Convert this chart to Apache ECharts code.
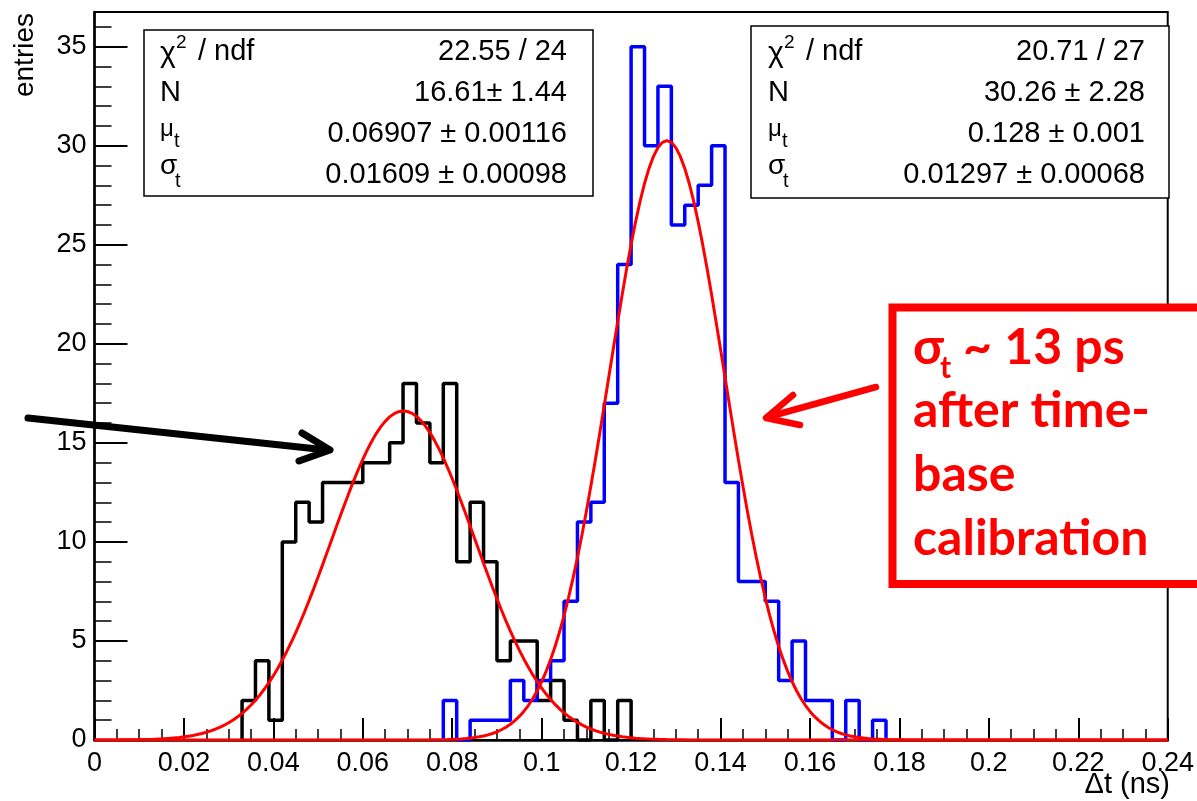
<!DOCTYPE html>
<html>
<head>
<meta charset="utf-8">
<script src="https://cdn.jsdelivr.net/npm/echarts@6/dist/echarts.min.js"></script>
<style>
  html, body { margin: 0; padding: 0; background: #fff; }
  #c { width: 1197px; height: 801px; }
</style>
</head>
<body>
<div id="c"></div>
<script>
// Time-difference histograms (before / after time-base calibration) with Gaussian fits

// histogram binning
const binWidth = 0.003;
const blackStart = 0.033;
const blackCounts = [2, 4, 1, 10, 12, 11, 13, 13, 13, 14, 14, 15, 18, 16, 14, 18, 9, 12, 9, 4, 5, 5, 2, 3, 1, 0, 2, 0, 2];
const blueStart = 0.078;
const blueCounts = [2, 0, 1, 1, 1, 3, 2, 3, 4, 7, 11, 12, 17, 24, 35, 30, 33, 26, 27, 28, 30, 13, 8, 8, 7, 3, 5, 2, 2, 0, 2, 0, 1];

// Gaussian fit results: N, mu_t, sigma_t
const blackFit = [16.61, 0.06907, 0.01609];
const blueFit = [30.26, 0.128, 0.01297];

// fit statistics text
const blackStats = ['22.55 / 24', '16.61\u00b1 1.44', '0.06907 \u00b1 0.00116', '0.01609 \u00b1 0.00098'];
const blueStats = ['20.71 / 27', '30.26 \u00b1 2.28', '0.128 \u00b1 0.001', '0.01297 \u00b1 0.00068'];

// axes
const xRange = [0, 0.24];
const xStep = 0.02;
const yRange = [0, 36.75];
const yStep = 5;
const xTitle = '\u0394t (ns)';
const yTitle = 'entries';

// annotation text
const noteHead = ['\u03c3', 't', '~ 13 ps'];
const noteLines = ['after time-', 'base', 'calibration'];

const SANS = '"Liberation Sans", Arial, sans-serif';
const NOTE_FONT = 'Lato, "Open Sans", sans-serif';

// outline of a histogram as a stepped line through bin edges
function stepData(start, counts) {
  const pts = [[start, 0]];
  counts.forEach((c, i) => pts.push([+(start + i * binWidth).toFixed(4), c]));
  pts.push([+(start + counts.length * binWidth).toFixed(4), 0]);
  return pts;
}

// fitted Gaussian N * exp(-0.5 ((x - mu) / sigma)^2) evaluated across the axis
function fitCurve(p) {
  const pts = [];
  const n = 240;
  for (let i = 0; i <= n; i++) {
    const x = xRange[0] + (xRange[1] - xRange[0]) * i / n;
    pts.push([x, p[0] * Math.exp(-0.5 * Math.pow((x - p[1]) / p[2], 2))]);
  }
  return pts;
}

// text placed by its baseline
function txt(text, x, base, fs, o) {
  o = o || {};
  const k = o.k || 0.35;
  return {
    type: 'text', x: x, y: base - k * fs, z: o.z || 50,
    style: {
      text: text, fontSize: fs, fontFamily: o.family || SANS,
      fontWeight: o.weight || 'normal', fill: o.fill || '#000',
      align: o.align || 'left', verticalAlign: 'middle'
    }
  };
}

// fit statistics box
function statBox(x, y, w, h, x0, xr, vals) {
  const rows = [62, 103, 144, 185];
  const out = [
    { type: 'rect', z: 40, shape: { x: x, y: y, width: w, height: h },
      style: { fill: '#fff', stroke: '#000', lineWidth: 1.5 } },
    txt('\u03c7', x0, rows[0] + 2, 30),
    txt('2', x0 + 16, rows[0] - 13, 19),
    txt('/ ndf', x0 + 38, rows[0], 29),
    txt('N', x0, rows[1], 29),
    txt('\u03bc', x0, rows[2] - 6, 24),
    txt('t', x0 + 14, rows[2] + 4, 20),
    txt('\u03c3', x0, rows[3] - 9, 28),
    txt('t', x0 + 15, rows[3] + 3, 20)
  ];
  vals.forEach((v, i) => out.push(txt(v, xr, rows[i], 29, { align: 'right' })));
  return out;
}

const chart = echarts.init(document.getElementById('c'), null, { renderer: 'canvas' });

const tickStyle = { color: '#000', width: 2 };
const minorStyle = { color: '#000', width: 1.5 };

const graphics = []
  .concat(statBox(144, 30, 449, 166, 160, 567, blackStats))
  .concat(statBox(751, 26, 418, 172, 768, 1145, blueStats))
  .concat([
    // annotation box
    { type: 'rect', z: 45, shape: { x: 892.5, y: 307.5, width: 330, height: 276.5 },
      style: { fill: '#fff', stroke: '#ff0000', lineWidth: 8 } },
    txt(noteHead[0], 913, 367, 50, { family: NOTE_FONT, weight: 'bold', fill: '#ff0000', k: 0.39 }),
    txt(noteHead[1], 940, 380, 30, { family: NOTE_FONT, weight: 'bold', fill: '#ff0000', k: 0.39 }),
    txt(noteHead[2], 963, 367, 50, { family: NOTE_FONT, weight: 'bold', fill: '#ff0000', k: 0.39 }),
    txt(noteLines[0], 913, 430, 50, { family: NOTE_FONT, weight: 'bold', fill: '#ff0000', k: 0.39 }),
    txt(noteLines[1], 913, 494, 50, { family: NOTE_FONT, weight: 'bold', fill: '#ff0000', k: 0.39 }),
    txt(noteLines[2], 913, 558, 50, { family: NOTE_FONT, weight: 'bold', fill: '#ff0000', k: 0.39 }),
    // red arrow towards the calibrated peak
    { type: 'polyline', z: 60, shape: { points: [[876, 387], [768, 417]] },
      style: { stroke: '#ff0000', lineWidth: 6.5, lineCap: 'round', fill: 'none' } },
    { type: 'polyline', z: 60, shape: { points: [[793, 395], [766, 418], [800, 425]] },
      style: { stroke: '#ff0000', lineWidth: 6.5, lineCap: 'round', lineJoin: 'round', fill: 'none' } },
    // black arrow towards the uncalibrated peak
    { type: 'polyline', z: 60, shape: { points: [[28, 418], [327, 450]] },
      style: { stroke: '#000', lineWidth: 7, lineCap: 'round', fill: 'none' } },
    { type: 'polyline', z: 60, shape: { points: [[302, 433], [330, 450], [299, 461]] },
      style: { stroke: '#000', lineWidth: 7, lineCap: 'round', lineJoin: 'round', fill: 'none' } },
    // axis titles
    txt(xTitle, 1170, 795, 29, { align: 'right' }),
    { type: 'text', z: 50, x: 25, y: 13, rotation: Math.PI / 2,
      style: { text: yTitle, fontSize: 28, fontFamily: SANS, fill: '#000',
               align: 'right', verticalAlign: 'middle' } }
  ]);

chart.setOption({
  animation: false,
  backgroundColor: '#fff',
  grid: { left: 94.5, right: 26, top: 12, bottom: 61, show: true,
          borderColor: '#000', borderWidth: 2, backgroundColor: 'transparent' },
  xAxis: {
    type: 'value', min: xRange[0], max: xRange[1], interval: xStep,
    axisLine: { onZero: false, lineStyle: { color: '#000', width: 2.5 } },
    axisTick: { inside: true, length: 22, lineStyle: tickStyle },
    minorTick: { show: true, splitNumber: 4, length: 11, lineStyle: minorStyle },
    splitLine: { show: false },
    axisLabel: { color: '#000', fontSize: 27, fontFamily: SANS, margin: 10 }
  },
  yAxis: {
    type: 'value', min: yRange[0], max: yRange[1], interval: yStep,
    axisLine: { onZero: false, lineStyle: { color: '#000', width: 2.5 } },
    axisTick: { inside: true, length: 33, lineStyle: tickStyle },
    minorTick: { show: true, splitNumber: 5, length: 17, lineStyle: minorStyle },
    splitLine: { show: false },
    axisLabel: { color: '#000', fontSize: 27, fontFamily: SANS, margin: 8, showMaxLabel: false }
  },
  series: [
    { name: 'before', type: 'line', step: 'end', symbol: 'none', z: 2,
      lineStyle: { color: '#000', width: 3.5 }, data: stepData(blackStart, blackCounts) },
    { name: 'after', type: 'line', step: 'end', symbol: 'none', z: 2,
      lineStyle: { color: '#0000ff', width: 3.5 }, data: stepData(blueStart, blueCounts) },
    { name: 'fit before', type: 'line', symbol: 'none', z: 3,
      lineStyle: { color: '#ff0000', width: 3 }, data: fitCurve(blackFit) },
    { name: 'fit after', type: 'line', symbol: 'none', z: 3,
      lineStyle: { color: '#ff0000', width: 3 }, data: fitCurve(blueFit) }
  ],
  graphic: graphics
});
</script>
</body>
</html>
